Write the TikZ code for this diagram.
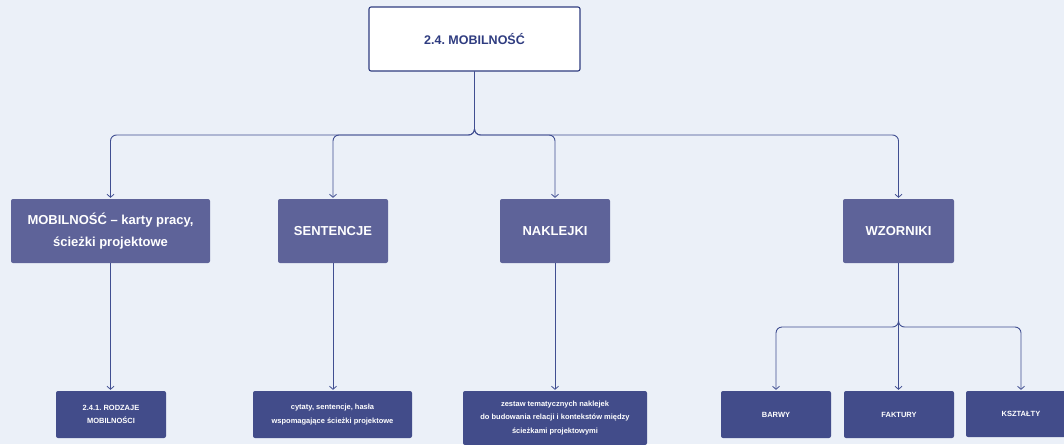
\documentclass[tikz,border=0pt]{standalone}
\usepackage{fontspec}
\setmainfont{Liberation Sans}
\usepackage{tikz}
\usetikzlibrary{calc}
\usetikzlibrary{arrows.meta}
\frenchspacing

\definecolor{bgcol}{RGB}{235,240,248}
\definecolor{midcol}{RGB}{94,99,153}
\definecolor{darkcol}{RGB}{66,76,138}
\definecolor{linecol}{RGB}{64,78,145}
\definecolor{titlecol}{RGB}{47,60,128}

\tikzset{
  topbox/.style={draw=titlecol,line width=1.1pt,fill=white,rounded corners=2pt,
    minimum width=211pt,minimum height=64pt,text=titlecol,font=\bfseries\fontsize{12.5}{15}\selectfont},
  midbox/.style={fill=midcol,rounded corners=2pt,minimum width=110pt,minimum height=64pt,
    text=white,align=center,font=\bfseries\fontsize{13}{22}\selectfont},
  lowbox/.style={fill=darkcol,rounded corners=2pt,minimum width=110pt,minimum height=47pt,
    text=white,align=center,font=\bfseries\fontsize{7.5}{13.5}\selectfont},
  link/.style={draw=linecol,line width=0.9pt,rounded corners=6pt,
    -{Straight Barb[length=3pt,width=7pt,line width=0.8pt]},shorten >=1pt},
}

\begin{document}
\begin{tikzpicture}[x=1pt,y=-1pt]
		\fill[bgcol] (0,0) rectangle (1064,444);
		\useasboundingbox (0,0) rectangle (1064,444);
		\node[topbox] (root) at (474.5,39) {2.4. MOBILNOŚĆ};
		\node[midbox,minimum width=199pt] (karty) at (110.5,231) {MOBILNOŚĆ – karty pracy,\\ścieżki projektowe};
		\node[midbox] (sent) at (333,231) {SENTENCJE};
		\node[midbox] (nakl) at (555,231) {NAKLEJKI};
		\node[midbox,minimum width=111pt] (wzor) at (898.5,231) {WZORNIKI};
		\node[lowbox] (rodz) at (111,414.5) {2.4.1. RODZAJE\\MOBILNOŚCI};
		\node[lowbox,minimum width=159pt] (cyt) at (332.5,414.5) {cytaty, sentencje, hasła\\wspomagające ścieżki projektowe};
		\node[lowbox,minimum width=184pt,minimum height=54pt] (zest) at (555,418) {zestaw tematycznych naklejek\\do budowania relacji i kontekstów między\\ścieżkami projektowymi};
		\node[lowbox] (barw) at (776,414.5) {BARWY};
		\node[lowbox] (fakt) at (899,414.5) {FAKTURY};
		\node[lowbox,minimum height=46pt] (ksz) at (1021,414) {KSZTAŁTY};
		% szyny
		\coordinate (bus) at (474.5,135);
		\coordinate (wbus) at (898.5,327);
		\draw[link] (root.south) -- (bus) -| (karty.north);
		\draw[link] (root.south) -- (bus) -| (sent.north);
		\draw[link] (root.south) -- (bus) -| (nakl.north);
		\draw[link] (root.south) -- (bus) -| (wzor.north);
		\draw[link] (karty.south) -- (karty.south |- rodz.north);
		\draw[link] (sent.south) -- (sent.south |- cyt.north);
		\draw[link] (nakl.south) -- (nakl.south |- zest.north);
		\draw[link] (wzor.south) -- (wbus) -| (barw.north);
		\draw[link] (wzor.south) -- (wzor.south |- fakt.north);
		\draw[link] (wzor.south) -- (wbus) -| (ksz.north);
\end{tikzpicture}
\end{document}
